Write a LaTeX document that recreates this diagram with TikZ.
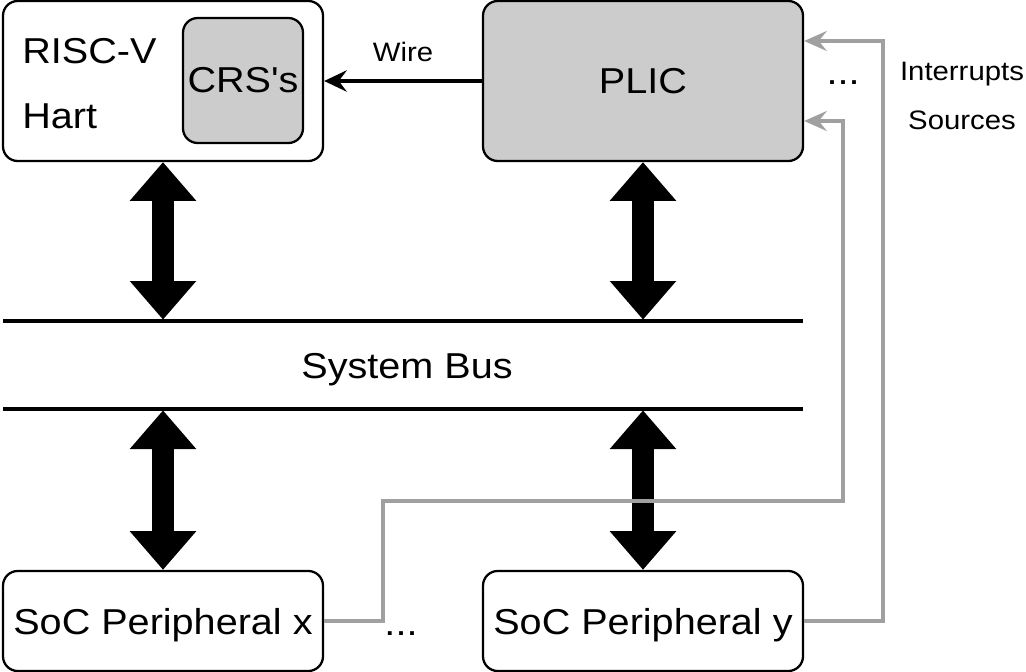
\documentclass[tikz,border=0pt]{standalone}
\usepackage{fontspec}
\setmainfont[FakeStretch=1.1]{Liberation Sans}
\newfontfamily\plainsans[FakeStretch=1.1]{Liberation Sans}
\usetikzlibrary{arrows.meta}
\definecolor{boxgray}{HTML}{CCCCCC}
\definecolor{wiregray}{HTML}{A0A0A0}
\tikzset{
  blk/.style={draw=black, line width=1.7pt, rounded corners=11pt, inner sep=0pt},
  bigtext/.style={font=\fontsize{27}{32}\selectfont},
  smalltext/.style={font=\fontsize{20}{24}\selectfont},
  busline/.style={line width=2.4pt},
  fatarrow/.style={line width=16pt, {Triangle[length=29pt,width=48pt]}-{Triangle[length=29pt,width=48pt]}},
  irq/.style={draw=wiregray, line width=2.5pt, -{Stealth[length=17pt,width=15pt,inset=6pt]}},
  wirearrow/.style={line width=2.4pt, -{Stealth[length=17pt,width=16pt,inset=6pt]}},
}
\begin{document}
\begin{tikzpicture}[x=0.75pt,y=-0.75pt]
\useasboundingbox (0,0) rectangle (1026,672);
% boxes
\node[blk, minimum width=240pt, minimum height=120pt] (hart) at (163,81) {};
\node[blk, fill=boxgray, minimum width=90pt, minimum height=93.75pt, bigtext] (crs) at (243,80.5) {\plainsans CRS's};
\node[bigtext, anchor=base west, inner sep=0pt] (risc) at (22,63) {RISC-V};
\node[bigtext, anchor=base west, inner sep=0pt] (hartlbl) at (22,128) {Hart};
\node[blk, fill=boxgray, minimum width=240pt, minimum height=120pt, bigtext] (plic) at (643,81) {PLIC};
\node[blk, minimum width=240pt, minimum height=75pt, bigtext, text depth=0pt] (px) at (163,621) {SoC Peripheral x};
\node[blk, minimum width=240pt, minimum height=75pt, bigtext, text depth=0pt] (py) at (643,621) {SoC Peripheral y};
% bus
\coordinate (btl) at (3,321);
\coordinate (btr) at (803,321);
\coordinate (bbl) at (3,409);
\coordinate (bbr) at (803,409);
\draw[busline] (btl) -- (btr);
\draw[busline] (bbl) -- (bbr);
\node[bigtext, text depth=0pt] (bus) at (407,366) {System Bus};
% fat arrows
\draw[fatarrow] (hart.south) -- ([yshift=1pt]hart.south |- btl);
\draw[fatarrow] (plic.south) -- ([yshift=1pt]plic.south |- btl);
\draw[fatarrow] ([yshift=-1pt]px.north |- bbl) -- (px.north);
\draw[fatarrow] ([yshift=-1pt]py.north |- bbl) -- (py.north);
% wire
\draw[wirearrow] (plic.west) -- (hart.east)
  node[midway, above=10pt, smalltext] (wire) {Wire};
% interrupt sources
\coordinate (a1) at (383,621);
\coordinate (a2) at (383,501);
\coordinate (a3) at (843,501);
\coordinate (a4) at (843,121);
\coordinate (b1) at (883,621);
\coordinate (b2) at (883,41);
\draw[irq] (px.east) -- (a1) -- (a2) -- (a3) -- (a4) -- (plic.east |- a4);
\draw[irq] (py.east) -- (b1) -- (b2) -- (plic.east |- b2);
\node[bigtext] (dots1) at (843,83) {...};
\node[bigtext] (dots2) at (401,634) {...};
\node[smalltext] (intr) at (962,74) {Interrupts};
\node[smalltext] (src) at (962,120) {Sources};
\end{tikzpicture}
\end{document}
